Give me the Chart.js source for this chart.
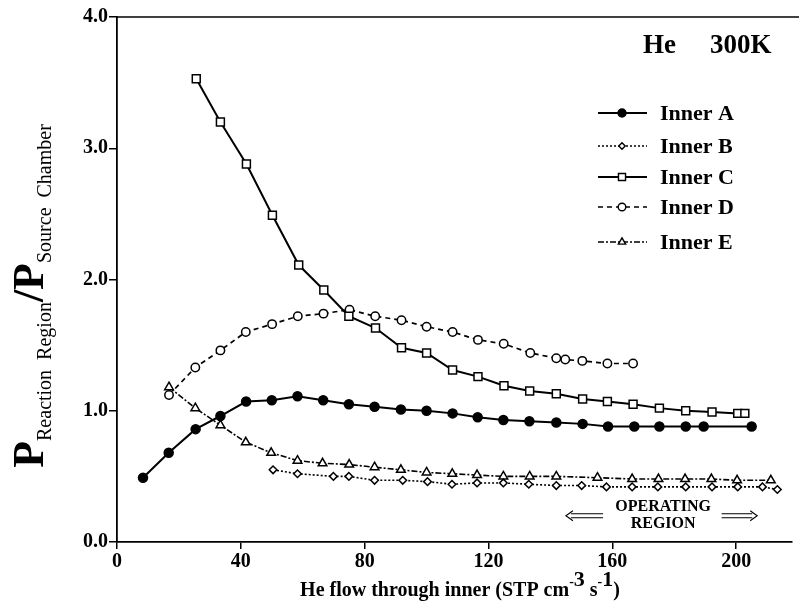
<!DOCTYPE html>
<html>
<head>
<meta charset="utf-8">
<script src="https://cdn.jsdelivr.net/npm/chart.js@4.4.1/dist/chart.umd.min.js"></script>
<style>
  html, body { margin: 0; padding: 0; background: #fff; }
  canvas { display: block; }
</style>
</head>
<body>
<canvas id="chart" width="799" height="609"></canvas>
<script>
// values (x: He flow, y: pressure ratio)
const innerA_x = [8.4, 16.7, 25.4, 33.4, 41.7, 50.0, 58.3, 66.6, 74.9, 83.2, 91.7, 100.0, 108.4, 116.5, 124.8, 133.2, 141.9, 150.4, 158.6, 167.1, 175.2, 183.7, 189.5, 205.0];
const innerA_y = [0.49, 0.68, 0.86, 0.96, 1.07, 1.08, 1.11, 1.08, 1.05, 1.03, 1.01, 1.00, 0.98, 0.95, 0.93, 0.92, 0.91, 0.90, 0.88, 0.88, 0.88, 0.88, 0.88, 0.88];

const innerB_x = [50.4, 58.3, 69.9, 74.9, 83.2, 92.3, 100.3, 108.2, 116.3, 124.8, 133.0, 141.9, 150.1, 158.1, 166.4, 174.7, 183.7, 192.2, 200.5, 208.5, 213.3];
const innerB_y = [0.55, 0.52, 0.50, 0.50, 0.47, 0.47, 0.46, 0.44, 0.45, 0.45, 0.44, 0.43, 0.43, 0.42, 0.42, 0.42, 0.42, 0.42, 0.42, 0.42, 0.40];

const innerC_x = [25.6, 33.4, 41.8, 50.2, 58.7, 66.8, 74.9, 83.5, 91.9, 100.0, 108.4, 116.6, 125.0, 133.3, 141.9, 150.4, 158.4, 166.7, 175.2, 183.7, 192.2, 200.5, 202.8];
const innerC_y = [3.53, 3.20, 2.88, 2.49, 2.11, 1.92, 1.72, 1.63, 1.48, 1.44, 1.31, 1.26, 1.19, 1.15, 1.13, 1.09, 1.07, 1.05, 1.02, 1.00, 0.99, 0.98, 0.98];

const innerD_x = [16.8, 25.3, 33.4, 41.6, 50.1, 58.4, 66.7, 75.1, 83.4, 91.9, 100.0, 108.4, 116.6, 124.9, 133.5, 141.9, 144.8, 150.3, 158.4, 166.7];
const innerD_y = [1.12, 1.33, 1.46, 1.60, 1.66, 1.72, 1.74, 1.77, 1.72, 1.69, 1.64, 1.60, 1.54, 1.51, 1.44, 1.40, 1.39, 1.38, 1.36, 1.36];

const innerE_x = [16.8, 25.3, 33.4, 41.6, 49.8, 58.3, 66.4, 75.0, 83.2, 91.7, 100.0, 108.3, 116.3, 124.8, 133.3, 141.9, 155.2, 166.4, 174.9, 183.5, 192.0, 200.3, 211.2];
const innerE_y = [1.18, 1.02, 0.89, 0.76, 0.68, 0.62, 0.60, 0.59, 0.57, 0.55, 0.53, 0.52, 0.51, 0.50, 0.50, 0.50, 0.49, 0.48, 0.48, 0.48, 0.48, 0.47, 0.47];

const seriesLabels = ['Inner A', 'Inner B', 'Inner C', 'Inner D', 'Inner E'];
const xTicks = [0, 40, 80, 120, 160, 200];
const yTicks = [0, 1, 2, 3, 4];

// annotation: operating region (in data units)
const opTextX = 176.4;
const opTextY = [0.265, 0.135];
const opArrowLeft = [145, 157];
const opArrowRight = [195.3, 206.8];
const opArrowY = 0.2;

const SERIF = '"Liberation Serif", "Times New Roman", serif';

function pts(xs, ys){ return xs.map((x, i) => ({ x, y: ys[i] })); }

const styles = [
  { pointStyle: 'circle',  radius: 4.5, fill: '#000', dash: [],            width: 2,   legendR: 4 },
  { pointStyle: 'rectRot', radius: 3.8, fill: '#fff', dash: [2, 2],        width: 1.6, legendR: 3.2 },
  { pointStyle: 'rect',    radius: 5.6, fill: '#fff', dash: [],            width: 2,   legendR: 5 },
  { pointStyle: 'circle',  radius: 4.2, fill: '#fff', dash: [5, 4],        width: 1.7, legendR: 3.8 },
  { pointStyle: 'triangle',radius: 5,   fill: '#fff', dash: [6, 2, 2, 2],  width: 1.6, legendR: 4.2 }
];
const allData = [pts(innerA_x, innerA_y), pts(innerB_x, innerB_y), pts(innerC_x, innerC_y), pts(innerD_x, innerD_y), pts(innerE_x, innerE_y)];

const datasets = allData.map((d, i) => ({
  label: seriesLabels[i],
  data: d,
  showLine: true,
  borderColor: '#000',
  borderWidth: styles[i].width,
  borderDash: styles[i].dash,
  pointStyle: styles[i].pointStyle,
  pointRadius: styles[i].radius,
  pointBackgroundColor: styles[i].fill,
  pointBorderColor: '#000',
  pointBorderWidth: 1.5,
  tension: 0
}));

// text drawn in pieces so sub/superscripts can be placed
function measurePieces(ctx, pieces){
  let w = 0;
  pieces.forEach(p => { ctx.font = p.font; p.w = ctx.measureText(p.t).width; w += p.w; });
  return w;
}

const decorations = {
  id: 'decorations',
  afterDraw(chart){
    const ctx = chart.ctx;
    const xs = chart.scales.x, ys = chart.scales.y;
    const area = chart.chartArea;
    ctx.save();

    // top frame line
    ctx.strokeStyle = '#000';
    ctx.lineWidth = 1.5;
    ctx.beginPath();
    ctx.moveTo(area.left, area.top);
    ctx.lineTo(chart.width, area.top);
    ctx.stroke();

    // He 300K
    ctx.fillStyle = '#000';
    ctx.font = 'bold 27px ' + SERIF;
    ctx.textBaseline = 'alphabetic';
    ctx.textAlign = 'left';
    ctx.fillText('He', 643, 53);
    ctx.fillText('300K', 710, 53);

    // legend
    const rows = [113, 146, 177, 207, 242];
    chart.data.datasets.forEach((ds, i) => {
      const y = rows[i];
      ctx.setLineDash(styles[i].dash);
      ctx.lineWidth = styles[i].width;
      ctx.strokeStyle = '#000';
      ctx.beginPath();
      ctx.moveTo(598, y);
      ctx.lineTo(647, y);
      ctx.stroke();
      ctx.setLineDash([]);
      ctx.fillStyle = styles[i].fill;
      ctx.lineWidth = 1.4;
      Chart.helpers.drawPoint(ctx, { pointStyle: styles[i].pointStyle, radius: styles[i].legendR, rotation: 0, borderWidth: 1.4 }, 622, y);
      ctx.fillStyle = '#000';
      ctx.font = 'bold 22px ' + SERIF;
      ctx.textBaseline = 'middle';
      ctx.fillText(ds.label, 660, y + 1);
    });

    // operating region
    ctx.textAlign = 'center';
    ctx.textBaseline = 'middle';
    ctx.font = 'bold 16px ' + SERIF;
    ctx.fillText('OPERATING', xs.getPixelForValue(opTextX), ys.getPixelForValue(opTextY[0]));
    ctx.fillText('REGION', xs.getPixelForValue(opTextX), ys.getPixelForValue(opTextY[1]));
    const ay = ys.getPixelForValue(opArrowY);
    ctx.lineWidth = 1.1;
    const arrow = (x1, x2, tipLeft) => {
      const tip = tipLeft ? x1 : x2, tail = tipLeft ? x2 : x1, dir = tipLeft ? 1 : -1;
      ctx.beginPath();
      ctx.moveTo(tip + dir * 5, ay - 2); ctx.lineTo(tail, ay - 2);
      ctx.moveTo(tip + dir * 5, ay + 2); ctx.lineTo(tail, ay + 2);
      ctx.moveTo(tip + dir * 7, ay - 5); ctx.lineTo(tip, ay); ctx.lineTo(tip + dir * 7, ay + 5);
      ctx.stroke();
    };
    arrow(xs.getPixelForValue(opArrowLeft[0]), xs.getPixelForValue(opArrowLeft[1]), true);
    arrow(xs.getPixelForValue(opArrowRight[0]), xs.getPixelForValue(opArrowRight[1]), false);

    // x axis title with superscripts
    const main = 'bold 20px ' + SERIF, supN = 'bold 22px ' + SERIF, supM = 'bold 14px ' + SERIF;
    const xp = [
      { t: 'He flow through inner (STP cm', font: main, dy: 0 },
      { t: '-', font: supM, dy: -10 },
      { t: '3', font: supN, dy: -10 },
      { t: ' s', font: main, dy: 0 },
      { t: '-', font: supM, dy: -10 },
      { t: '1', font: supN, dy: -10 },
      { t: ')', font: main, dy: 0 }
    ];
    let w = measurePieces(ctx, xp);
    let x = 460 - w / 2;
    ctx.textAlign = 'left';
    ctx.textBaseline = 'alphabetic';
    xp.forEach(p => { ctx.font = p.font; ctx.fillText(p.t, x, 596 + p.dy); x += p.w; });

    // y axis title, rotated, with subscripts
    const big = 'bold 44px ' + SERIF, sub = '20px ' + SERIF;
    const yp = [
      { t: 'P', font: big, dy: 0 },
      { t: 'Reaction  Region', font: sub, dy: 8 },
      { t: '/', font: big, dy: 0 },
      { t: 'P', font: big, dy: 0 },
      { t: 'Source  Chamber', font: sub, dy: 8 }
    ];
    w = measurePieces(ctx, yp);
    ctx.translate(43, 296);
    ctx.rotate(-Math.PI / 2);
    x = -w / 2;
    yp.forEach(p => { ctx.font = p.font; ctx.fillText(p.t, x, p.dy); x += p.w; });
    ctx.restore();
  }
};

new Chart(document.getElementById('chart'), {
  type: 'scatter',
  data: { datasets },
  options: {
    responsive: false,
    animation: false,
    devicePixelRatio: 1,
    layout: { padding: { top: 17, right: 2, left: 0, bottom: 0 } },
    plugins: { legend: { display: false }, tooltip: { enabled: false } },
    scales: {
      x: {
        type: 'linear', min: 0, max: 218,
        afterFit: s => { s.height = 67; },
        afterBuildTicks: s => { s.ticks = xTicks.map(v => ({ value: v })); },
        ticks: { color: '#000', padding: 1, maxRotation: 0, font: { family: SERIF, size: 20, weight: 'bold' } },
        grid: { drawOnChartArea: false, drawTicks: true, tickLength: 7, color: '#000', lineWidth: 1.5 },
        border: { color: '#000', width: 1.8 }
      },
      y: {
        type: 'linear', min: 0, max: 4,
        afterFit: s => { s.width = 117; },
        afterBuildTicks: s => { s.ticks = yTicks.map(v => ({ value: v })); },
        ticks: { color: '#000', padding: 1, callback: v => v.toFixed(1), font: { family: SERIF, size: 20, weight: 'bold' } },
        grid: { drawOnChartArea: false, drawTicks: true, tickLength: 8, color: '#000', lineWidth: 1.5 },
        border: { color: '#000', width: 1.8 }
      }
    }
  },
  plugins: [decorations]
});
</script>
</body>
</html>
